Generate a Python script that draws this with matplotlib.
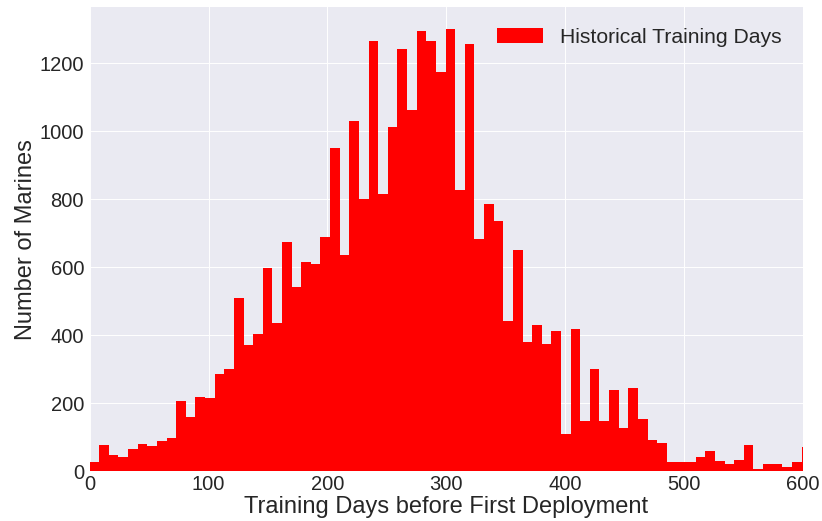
import numpy as np
import matplotlib
matplotlib.use("Agg")
import matplotlib.pyplot as plt

# bar heights, one per bin starting at day 0
bin_width = 8.09
counts = [27, 78, 47, 43, 67, 79, 74, 90, 98, 206,
          160, 218, 215, 285, 302, 510, 370, 404, 597, 435,
          675, 542, 616, 609, 689, 951, 636, 1029, 800, 1265,
          816, 1012, 1241, 1061, 1295, 1266, 1173, 1301, 827, 1256,
          682, 786, 735, 442, 650, 381, 429, 374, 411, 109,
          419, 149, 300, 149, 238, 126, 244, 153, 91, 84,
          28, 28, 28, 41, 59, 30, 21, 33, 76, 6,
          21, 21, 12, 26, 71]

edges = np.arange(len(counts) + 1) * bin_width
lefts = edges[:-1]

plt.rcParams['font.family'] = ['Liberation Sans', 'DejaVu Sans']
plt.rcParams['text.color'] = '#262626'
plt.rcParams['axes.labelcolor'] = '#262626'
plt.rcParams['xtick.color'] = '#262626'
plt.rcParams['ytick.color'] = '#262626'

fig = plt.figure(figsize=(8.22, 5.21), dpi=100)
ax = fig.add_axes([0.109, 0.0954, 0.868, 0.8912])
ax.set_facecolor('#EAEAF2')
for s in ax.spines.values():
    s.set_visible(False)
ax.grid(True, color='white', linewidth=0.7)
ax.set_axisbelow(True)

ax.hist(lefts, bins=edges, weights=counts, color='red',
        label='Historical Training Days')

ax.set_xlim(0, 600)
ax.set_ylim(0, 1365)
ax.set_yticks([0, 200, 400, 600, 800, 1000, 1200])
ax.tick_params(labelsize=14.5, length=0)
ax.tick_params(axis='y', pad=4)
ax.tick_params(axis='x', pad=3)
ax.set_xlabel('Training Days before First Deployment', fontsize=17, labelpad=1)
ax.set_ylabel('Number of Marines', fontsize=17, labelpad=2)
ax.legend(loc='upper right', fontsize=15.2, frameon=False,
          borderaxespad=0.6, handlelength=2.2)

fig.savefig('out.png', dpi=100)
